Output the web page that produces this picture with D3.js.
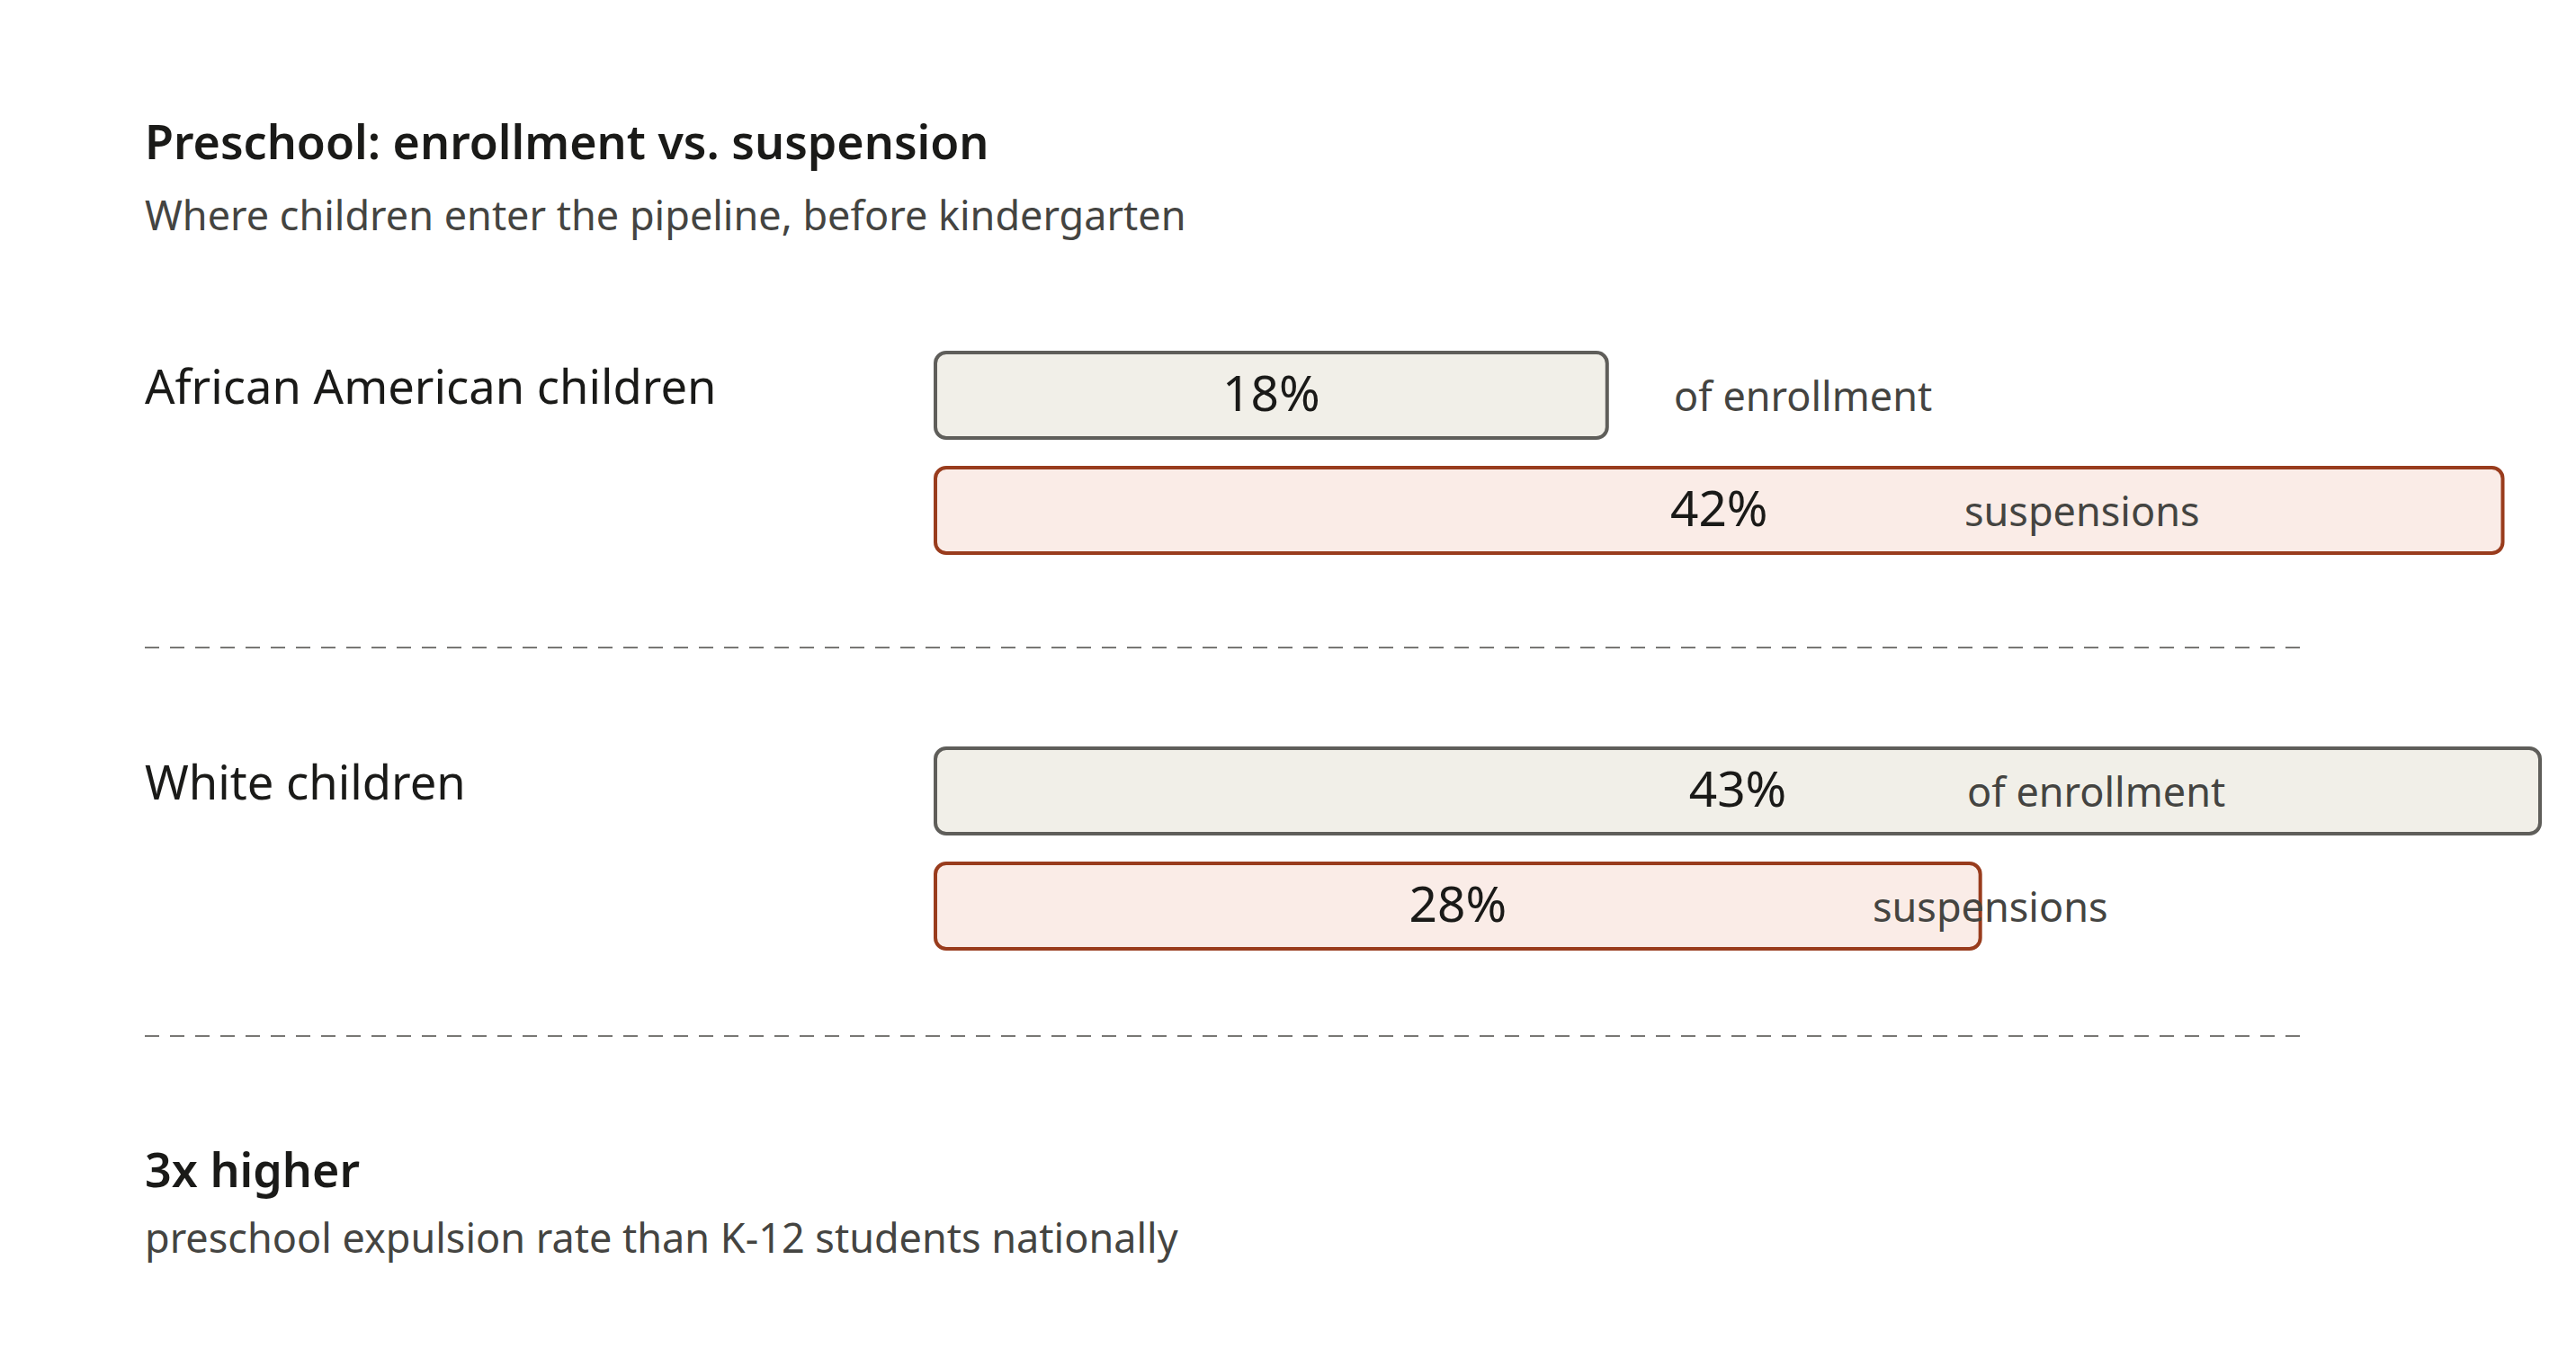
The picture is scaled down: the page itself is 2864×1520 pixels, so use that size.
<!DOCTYPE html>
<html>
<head>
<meta charset="utf-8">
<script src="https://cdn.jsdelivr.net/npm/d3@7"></script>
<style>
  html, body { margin: 0; padding: 0; background: #ffffff; }
  svg { display: block; font-family: "Segoe UI", "Noto Sans", sans-serif; }
</style>
</head>
<body>
<svg id="chart" width="2864" height="1520"></svg>
<script>
// ---- data ----
const groups = ["African American children", "White children"];
const enrollment = [18, 43];
const suspensions = [42, 28];
const seriesNames = ["of enrollment", "suspensions"];
const titleText = "Preschool: enrollment vs. suspension";
const subtitleText = "Where children enter the pipeline, before kindergarten";
const calloutHead = "3x higher";
const calloutBody = "preschool expulsion rate than K-12 students nationally";

// ---- layout ----
const W = 2864, H = 1520;
const left = 161;
const barX0 = 1040, barX1 = 2824;
const rowTop = [392, 832];
const barH = 95, barGap = 128;
const descX = [[1861, 2184], [2187, 2082]]; // descriptor text x per row [enroll, susp]
const dividerY = [720, 1152];
const dividerX1 = 2557;

const colors = {
  enrollFill: "#f1efe8", enrollStroke: "#5f5e5a",
  suspFill: "#faece7", suspStroke: "#993c1d",
  dark: "#1a1a18", mid: "#444441", rule: "#787774"
};

const svg = d3.select("#chart");
const x = d3.scaleLinear().domain([0, 43]).range([barX0, barX1]);

// title
svg.append("text").attr("x", left).attr("y", 177)
  .attr("font-size", 52).attr("font-weight", 600).attr("fill", colors.dark)
  .text(titleText);
svg.append("text").attr("x", left).attr("y", 256)
  .attr("font-size", 45).attr("fill", colors.mid)
  .text(subtitleText);

// build bar records
const bars = [];
groups.forEach((g, i) => {
  bars.push({row: i, k: 0, v: enrollment[i], y: rowTop[i], fill: colors.enrollFill, stroke: colors.enrollStroke, desc: seriesNames[0]});
  bars.push({row: i, k: 1, v: suspensions[i], y: rowTop[i] + barGap, fill: colors.suspFill, stroke: colors.suspStroke, desc: seriesNames[1]});
});

// group labels
svg.selectAll("text.group").data(groups).join("text")
  .attr("class", "group")
  .attr("x", left).attr("y", (d, i) => rowTop[i] + 57)
  .attr("font-size", 52.5).attr("fill", colors.dark)
  .text(d => d);

// bars
svg.selectAll("rect.bar").data(bars).join("rect")
  .attr("class", "bar")
  .attr("x", x(0))
  .attr("y", d => d.y)
  .attr("width", d => x(d.v) - x(0))
  .attr("height", barH)
  .attr("rx", 12).attr("ry", 12)
  .attr("fill", d => d.fill)
  .attr("stroke", d => d.stroke)
  .attr("stroke-width", 4);

// value labels
svg.selectAll("text.val").data(bars).join("text")
  .attr("class", "val")
  .attr("x", d => (x(0) + x(d.v)) / 2)
  .attr("y", d => d.y + barH / 2)
  .attr("dy", "0.32em")
  .attr("text-anchor", "middle")
  .attr("font-size", 55).attr("fill", colors.dark)
  .text(d => d.v + "%");

// descriptors
svg.selectAll("text.desc").data(bars).join("text")
  .attr("class", "desc")
  .attr("x", d => descX[d.row][d.k])
  .attr("y", d => d.y + barH / 2)
  .attr("dy", "0.38em")
  .attr("font-size", 45).attr("fill", colors.mid)
  .text(d => d.desc);

// dividers
svg.selectAll("line.div").data(dividerY).join("line")
  .attr("class", "div")
  .attr("x1", left).attr("x2", dividerX1)
  .attr("y1", d => d).attr("y2", d => d)
  .attr("stroke", colors.rule).attr("stroke-width", 2)
  .attr("stroke-dasharray", "16,12");

// callout
svg.append("text").attr("x", left).attr("y", 1320)
  .attr("font-size", 52).attr("font-weight", 600).attr("fill", colors.dark)
  .text(calloutHead);
svg.append("text").attr("x", left).attr("y", 1393)
  .attr("font-size", 45).attr("fill", colors.mid)
  .text(calloutBody);
</script>
</body>
</html>
